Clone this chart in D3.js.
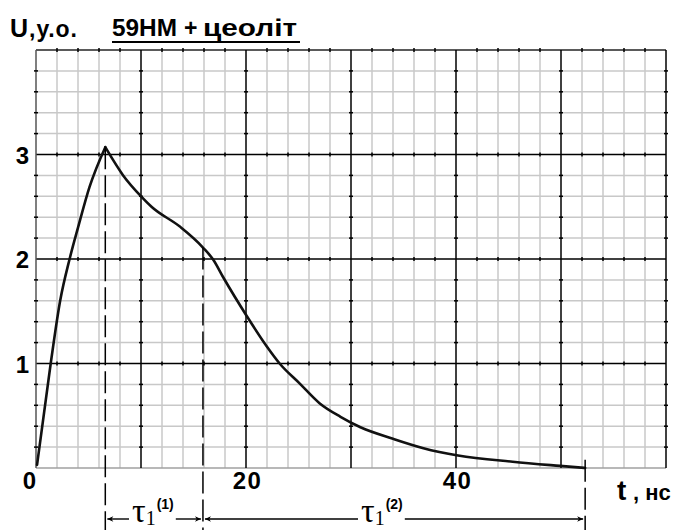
<!DOCTYPE html>
<html>
<head>
<meta charset="utf-8">
<script src="https://cdn.jsdelivr.net/npm/d3@7"></script>
<style>
  body { margin: 0; background: #fff; }
  text { font-family: "Liberation Sans", Arial, sans-serif; font-weight: bold; fill: #000; }
</style>
</head>
<body>
<svg id="chart" width="678" height="530"></svg>
<script>
// values: t (нс) and U (у.о.)
var time   = [0.1, 1.4, 2.3, 3.2, 4.0, 5.1, 6.6, 8.3, 10.1, 11.0, 13.7, 15.9, 16.9, 17.8, 20.1, 22.0, 23.2, 25.1, 27.0, 29.0, 30.9, 34.0, 36.9, 40.2, 45.4, 49.9, 52.3];
var signal = [0.03, 1.0, 1.6, 2.0, 2.3, 2.69, 3.07, 2.80, 2.59, 2.50, 2.31, 2.11, 1.99, 1.83, 1.45, 1.16, 1.0, 0.81, 0.62, 0.49, 0.39, 0.28, 0.19, 0.12, 0.06, 0.02, 0.0];
var peakIndex = 6;

var xLabelTicks = [0, 20, 40];
var yLabelTicks = [1, 2, 3];
var xMajorStep = 10, xMinorStep = 2;
var yMajorStep = 1, yMinorStep = 0.2;

// tau markers: time and where the dashed line starts
var tauTimes = [6.6, 15.9, 52.3];
var tauTops  = [3.07, 2.11, 0.08];
var tauLabels = [{sup: "(1)", from: 0, to: 1}, {sup: "(2)", from: 1, to: 2}];

var svg = d3.select("#chart");

var x = d3.scaleLinear().domain([0, 60]).range([36, 666]);
var y = d3.scaleLinear().domain([0, 4]).range([468, 50]);

var grid = svg.append("g");

/* minor grid */
var xMinor = d3.range(0, 60 + 1e-9, xMinorStep);
var yMinor = d3.range(0, 4 + 1e-9, yMinorStep);
var isMajorX = function (v) { return Math.abs(v / xMajorStep - Math.round(v / xMajorStep)) < 1e-6; };
var isMajorY = function (v) { return Math.abs(v / yMajorStep - Math.round(v / yMajorStep)) < 1e-6; };

grid.selectAll(".vminor").data(xMinor.filter(function (v) { return !isMajorX(v); }))
  .enter().append("line")
  .attr("x1", x).attr("x2", x).attr("y1", y(0)).attr("y2", y(4))
  .attr("stroke", "#c8c8c8").attr("stroke-width", 1.5);

grid.selectAll(".hminor").data(yMinor.filter(function (v) { return !isMajorY(v); }))
  .enter().append("line")
  .attr("x1", x(0)).attr("x2", x(60)).attr("y1", y).attr("y2", y)
  .attr("stroke", "#c8c8c8").attr("stroke-width", 1.5);

/* bottom line (U = 0) */
grid.append("line")
  .attr("x1", x(0)).attr("x2", x(60)).attr("y1", y(0)).attr("y2", y(0))
  .attr("stroke", "#a0a0a0").attr("stroke-width", 1.5);

/* major grid */
var xMajor = xMinor.filter(isMajorX);
var yMajor = yMinor.filter(function (v) { return isMajorY(v) && v > 0; });

grid.selectAll(".hmajor").data(yMajor)
  .enter().append("line")
  .attr("x1", x(0)).attr("x2", x(60)).attr("y1", y).attr("y2", y)
  .attr("stroke", function (d) { return d === 4 ? "#5a5a5a" : "#000"; })
  .attr("stroke-width", function (d) { return d === 4 ? 2 : 1.5; });

grid.selectAll(".vmajor").data(xMajor)
  .enter().append("line")
  .attr("x1", x).attr("x2", x).attr("y1", y(0)).attr("y2", y(4))
  .attr("stroke", function (d) { return d === 0 ? "#555" : "#000"; })
  .attr("stroke-width", 1.5);

/* little marks where minor lines cross the major ones */
xMajor.forEach(function (xv) {
  yMinor.filter(function (v) { return !isMajorY(v) && v > 0; }).forEach(function (yv) {
    grid.append("line")
      .attr("x1", x(xv) - 2).attr("x2", x(xv) + 2)
      .attr("y1", y(yv)).attr("y2", y(yv))
      .attr("stroke", "#000").attr("stroke-width", 1.5);
  });
});
yMajor.forEach(function (yv) {
  xMinor.filter(function (v) { return !isMajorX(v); }).forEach(function (xv) {
    grid.append("line")
      .attr("x1", x(xv)).attr("x2", x(xv))
      .attr("y1", y(yv) - 2).attr("y2", y(yv) + 2)
      .attr("stroke", "#000").attr("stroke-width", 1.5);
  });
});

/* tick labels through d3 axes */
var xAxis = svg.append("g")
  .attr("transform", "translate(0," + y(0) + ")")
  .call(d3.axisBottom(x).tickValues(xLabelTicks).tickSize(0).tickPadding(0).tickFormat(d3.format("d")));
xAxis.select(".domain").remove();
xAxis.selectAll("text")
  .attr("y", 21).attr("dy", 0)
  .style("font-size", "24px").style("font-family", "'Liberation Sans', Arial, sans-serif").style("font-weight", "bold")
  .style("letter-spacing", "1.5px")
  .attr("text-anchor", function (d) { return d === 0 ? "end" : "middle"; })
  .attr("dx", 1);

var yAxis = svg.append("g")
  .attr("transform", "translate(" + x(0) + ",0)")
  .call(d3.axisLeft(y).tickValues(yLabelTicks).tickSize(0).tickPadding(7).tickFormat(d3.format("d")));
yAxis.select(".domain").remove();
yAxis.selectAll("text")
  .attr("dy", "0.36em")
  .style("font-size", "24px").style("font-family", "'Liberation Sans', Arial, sans-serif").style("font-weight", "bold");

/* curve: rise and decay drawn as two monotone pieces so the peak stays sharp */
var points = time.map(function (t, i) { return [t, signal[i]]; });
var line = d3.line()
  .x(function (d) { return x(d[0]); })
  .y(function (d) { return y(d[1]); })
  .curve(d3.curveMonotoneX);

[points.slice(0, peakIndex + 1), points.slice(peakIndex)].forEach(function (seg) {
  svg.append("path")
    .datum(seg)
    .attr("d", line)
    .attr("fill", "none")
    .attr("stroke", "#111")
    .attr("stroke-width", 2.6)
    .attr("stroke-linejoin", "round")
    .attr("stroke-linecap", "round");
});

/* dashed markers */
var arrowY = 519;
svg.selectAll(".tau").data(tauTimes)
  .enter().append("line")
  .attr("x1", x).attr("x2", x)
  .attr("y1", function (d, i) { return y(tauTops[i]); })
  .attr("y2", 530)
  .attr("stroke", "#000").attr("stroke-width", 1.5)
  .attr("stroke-dasharray", "22,6");

/* arrowheads */
var defs = svg.append("defs");
defs.append("marker")
  .attr("id", "ah")
  .attr("viewBox", "0 0 10 10")
  .attr("refX", 10).attr("refY", 5)
  .attr("markerWidth", 10).attr("markerHeight", 6)
  .attr("markerUnits", "userSpaceOnUse")
  .attr("orient", "auto")
  .append("path").attr("d", "M0,0.5 L10,5 L0,9.5 L3,5 Z").attr("fill", "#000");

var labelStarts = [132, 361];
tauLabels.forEach(function (lab, i) {
  var x0 = x(tauTimes[lab.from]), x1 = x(tauTimes[lab.to]);
  var t = svg.append("text").attr("x", labelStarts[i]).attr("y", 522);
  t.append("tspan").text("τ")
    .style("font-family", "'Liberation Serif', 'Times New Roman', serif")
    .style("font-weight", "normal").style("font-size", "34px");
  t.append("tspan").text("1").attr("dy", 3)
    .style("font-family", "'Liberation Serif', 'Times New Roman', serif")
    .style("font-weight", "normal").style("font-size", "20px");
  t.append("tspan").text(lab.sup).attr("dy", -16).attr("dx", 1)
    .style("font-size", "14px");
  var bb = t.node().getBBox();
  svg.append("line")
    .attr("x1", bb.x - 3).attr("x2", x0 + 2)
    .attr("y1", arrowY).attr("y2", arrowY)
    .attr("stroke", "#000").attr("stroke-width", 1.4)
    .attr("marker-end", "url(#ah)");
  svg.append("line")
    .attr("x1", bb.x + bb.width + 2).attr("x2", x1 - 2)
    .attr("y1", arrowY).attr("y2", arrowY)
    .attr("stroke", "#000").attr("stroke-width", 1.4)
    .attr("marker-end", "url(#ah)");
});

/* titles */
svg.append("text").attr("x", 10).attr("y", 37).style("font-size", "25px").text("U");
svg.append("text").attr("x", 29).attr("y", 37).style("font-size", "23px")
  .style("letter-spacing", "1px").text(",у.о.");

svg.append("text").attr("x", 112).attr("y", 36).style("font-size", "24px")
  .attr("textLength", 65).attr("lengthAdjust", "spacingAndGlyphs").text("59НМ");
svg.append("text").attr("x", 184).attr("y", 36).style("font-size", "23px").text("+");
svg.append("text").attr("x", 203).attr("y", 36).style("font-size", "23px")
  .attr("textLength", 94).attr("lengthAdjust", "spacingAndGlyphs").text("цеоліт");
svg.append("line")
  .attr("x1", 112).attr("x2", 300)
  .attr("y1", 42).attr("y2", 42)
  .attr("stroke", "#000").attr("stroke-width", 2.2);

svg.append("text").attr("x", 617).attr("y", 500).style("font-size", "28px").text("t");
svg.append("text").attr("x", 633).attr("y", 500).style("font-size", "22px").text(", нс");
</script>
</body>
</html>
